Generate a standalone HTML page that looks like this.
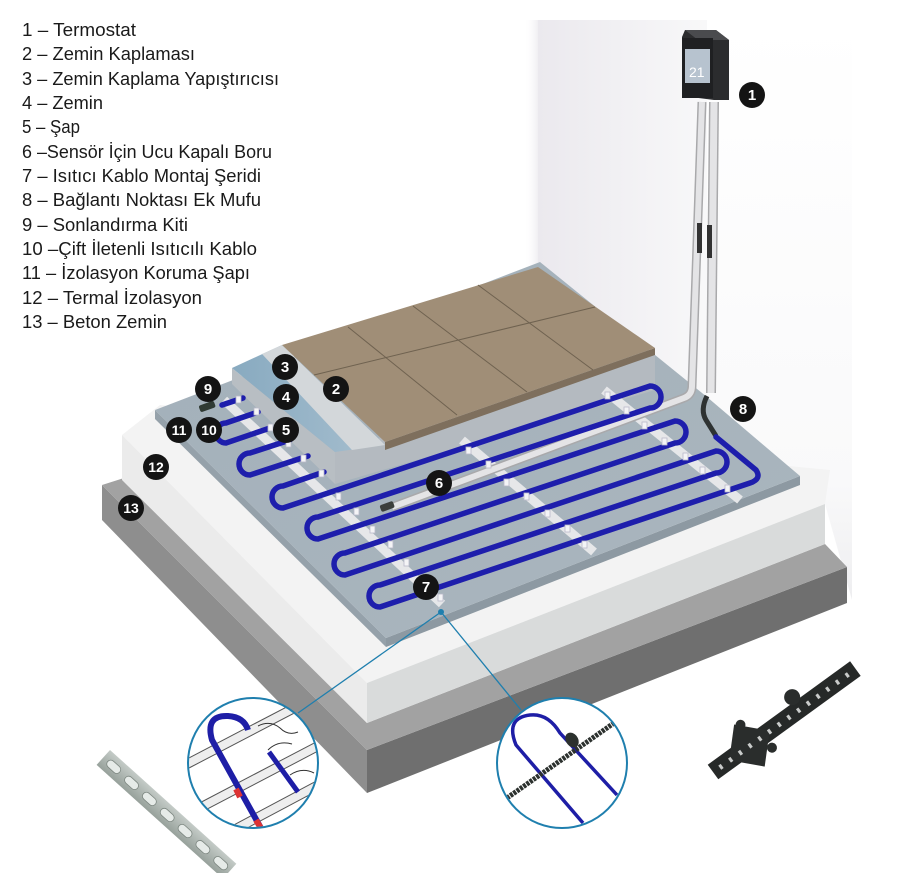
<!DOCTYPE html>
<html><head><meta charset="utf-8">
<style>
html,body{margin:0;padding:0;background:#fff;}
svg{display:block;}
text{font-family:"Liberation Sans",sans-serif;}
</style></head>
<body>
<svg width="922" height="873" viewBox="0 0 922 873" xmlns="http://www.w3.org/2000/svg">
<defs>
  <linearGradient id="sideWall" x1="0" y1="0" x2="1" y2="0">
    <stop offset="0" stop-color="#ffffff" stop-opacity="0"/>
    <stop offset="1" stop-color="#ebe9ee"/>
  </linearGradient>
  <linearGradient id="backWall" x1="0" y1="0" x2="1" y2="0">
    <stop offset="0" stop-color="#ebe9ee"/>
    <stop offset="1" stop-color="#f8f8f9"/>
  </linearGradient>
  <linearGradient id="rightWall" x1="0" y1="0" x2="0" y2="1">
    <stop offset="0" stop-color="#ffffff"/>
    <stop offset="0.8" stop-color="#f9f9fa"/>
    <stop offset="1" stop-color="#eeeef0"/>
  </linearGradient>
  <linearGradient id="screedTop" x1="0" y1="0" x2="1" y2="1">
    <stop offset="0" stop-color="#a3b0ba"/>
    <stop offset="1" stop-color="#aab6be"/>
  </linearGradient>
  <linearGradient id="blueTop" x1="0" y1="0" x2="1" y2="0">
    <stop offset="0" stop-color="#88aac0"/>
    <stop offset="1" stop-color="#a7bfcf"/>
  </linearGradient>
  <linearGradient id="metal" x1="0" y1="0" x2="0" y2="1">
    <stop offset="0" stop-color="#c4cbc7"/>
    <stop offset="1" stop-color="#97a19b"/>
  </linearGradient>
  <clipPath id="c1"><circle cx="253" cy="763" r="64"/></clipPath>
  <clipPath id="c2"><circle cx="562" cy="763" r="64"/></clipPath>
</defs>

<!-- walls -->
<rect x="524" y="20" width="16" height="330" fill="url(#sideWall)"/>
<polygon points="538,20 707,20 707,397 538,262" fill="url(#backWall)"/>
<polygon points="707,20 852,20 852,600 825,504 800,476 707,397" fill="url(#rightWall)"/>

<!-- concrete -->
<polygon points="102,485 367,750 367,793 102,520" fill="#8e8e8e"/>
<polygon points="367,750 847,567 847,603 367,793" fill="#6f6f6f"/>
<polygon points="102,485 124,478 367,723 825,544 847,567 367,750" fill="#a2a2a2"/>

<!-- insulation -->
<polygon points="122,435 160,405 830,470 825,504 367,683" fill="#f3f3f3"/>
<polygon points="122,435 367,683 367,723 122,480" fill="#ebebeb"/>
<polygon points="367,683 825,504 825,544 367,723" fill="#d9dbdb"/>

<!-- screed -->
<polygon points="155,410 386,638 386,647 155,419" fill="#95a1aa"/>
<polygon points="386,638 800,476 800,485 386,647" fill="#8d99a2"/>
<polygon points="155,410 540,262 707,397 800,476 386,638" fill="url(#screedTop)"/>

<!-- stacked layers -->
<polygon points="232,368 335,452 335,484 232,384" fill="#b8bec3"/>
<polygon points="335,452 655,352 655,390 335,484" fill="#b4bac0"/>
<polygon points="232,368 282,345 385,445 335,452" fill="url(#blueTop)"/>
<polygon points="262,354 282,345 385,445 352,450" fill="#d3d7da"/>
<!-- tile -->
<polygon points="385,442 655,348 655,355 385,450" fill="#7e6f5d"/>
<polygon points="282,345 538,267 655,348 385,442" fill="#a08e77"/>
<g stroke="#6f6250" stroke-width="1" fill="none">
  <line x1="348" y1="327" x2="457" y2="415"/>
  <line x1="413" y1="306" x2="527" y2="392"/>
  <line x1="478" y1="285" x2="593" y2="370"/>
  <line x1="314" y1="375" x2="595" y2="307"/>
</g>

<!-- mounting strips -->
<g stroke="#e6e7e9" stroke-width="9" stroke-linecap="butt">
  <line x1="224" y1="400" x2="442" y2="604"/>
  <line x1="462" y1="440" x2="594" y2="552"/>
  <line x1="604" y1="390" x2="740" y2="500"/>
</g>

<!-- sensor pipe / conduits -->
<path d="M392,507 L684,398 Q692,395 692,386 L702,102" fill="none" stroke="#a9a9ab" stroke-width="9"/>
<path d="M392,507 L684,398 Q692,395 692,386 L702,102" fill="none" stroke="#e4e4e6" stroke-width="6"/>
<path d="M711,393 L714,102" fill="none" stroke="#a9a9ab" stroke-width="10"/>
<path d="M711,393 L714,102" fill="none" stroke="#e4e4e6" stroke-width="7"/>
<rect x="380" y="503" width="14" height="7" rx="2" fill="#3c3f3c" transform="rotate(-20 387 506)"/>
<rect x="697" y="223" width="5" height="30" fill="#333"/>
<rect x="707" y="225" width="5" height="33" fill="#333"/>

<!-- cold lead -->
<path d="M707,396 Q700,410 706,420 L716,436" fill="none" stroke="#2e3232" stroke-width="5"/>

<!-- heating cable -->
<g fill="none" stroke="#1e1eac" stroke-width="5.5" stroke-linecap="round">
  <path d="M222,405 L243,398"/>
  <path d="M258,412 L226,423 A10,10 0 0 0 226,443 L270,428"/>
  <path d="M290,440 L250,453 A11,11 0 0 0 250,475 L308,456"/>
  <path d="M324,472 L283,486 A11,11 0 0 0 283,508 L650,386 A11,11 0 0 1 650,408 L318,517 A11,11 0 0 0 318,539 L675,421 A11,11 0 0 1 675,443 L345,553 A11,11 0 0 0 345,575 L716,451 A11,11 0 0 1 716,473 L380,585 A11,11 0 0 0 380,607 L750,483 Q762,479 756,470 L716,437"/>
</g>
<rect x="199" y="403" width="16" height="7" rx="2" fill="#2f3a33" transform="rotate(-20 207 406)"/>
<!-- clips -->
<g fill="#f4f4f6" stroke="#b9b9c9" stroke-width="0.8">
  <rect x="236" y="396" width="5" height="7"/><rect x="254" y="408" width="5" height="7"/>
  <rect x="268" y="424" width="5" height="7"/><rect x="286" y="440" width="5" height="7"/>
  <rect x="301" y="455" width="5" height="7"/><rect x="319" y="470" width="5" height="7"/>
  <rect x="336" y="493" width="5" height="7"/><rect x="354" y="508" width="5" height="7"/>
  <rect x="370" y="526" width="5" height="7"/><rect x="388" y="541" width="5" height="7"/>
  <rect x="404" y="559" width="5" height="7"/><rect x="420" y="575" width="5" height="7"/>
  <rect x="438" y="594" width="5" height="7"/>
  <rect x="466" y="447" width="5" height="7"/><rect x="486" y="461" width="5" height="7"/>
  <rect x="504" y="479" width="5" height="7"/><rect x="524" y="493" width="5" height="7"/>
  <rect x="545" y="510" width="5" height="7"/><rect x="565" y="525" width="5" height="7"/>
  <rect x="582" y="541" width="5" height="7"/>
  <rect x="605" y="392" width="5" height="7"/><rect x="624" y="407" width="5" height="7"/>
  <rect x="642" y="422" width="5" height="7"/><rect x="662" y="438" width="5" height="7"/>
  <rect x="683" y="453" width="5" height="7"/><rect x="700" y="467" width="5" height="7"/>
  <rect x="725" y="485" width="5" height="7"/>
</g>

<!-- thermostat -->
<polygon points="685,30 716,30 729,40 729,100 714,100 683,96 682,37" fill="#2b2c2e"/>
<polygon points="685,30 716,30 729,40 698,40" fill="#4a4b4e"/>
<rect x="682" y="38" width="31" height="60" fill="#1f2022"/>
<rect x="685" y="49" width="25" height="34" fill="#b7c3cf"/>
<text x="689" y="77" font-size="14" fill="#fff">21</text>

<!-- legend -->
<g font-size="18" fill="#1a1a1a">
  <text x="22" y="36" textLength="114" lengthAdjust="spacingAndGlyphs">1 – Termostat</text>
  <text x="22" y="60" textLength="173" lengthAdjust="spacingAndGlyphs">2 – Zemin Kaplaması</text>
  <text x="22" y="85" textLength="257" lengthAdjust="spacingAndGlyphs">3 – Zemin Kaplama Yapıştırıcısı</text>
  <text x="22" y="109" textLength="81" lengthAdjust="spacingAndGlyphs">4 – Zemin</text>
  <text x="22" y="133" textLength="58" lengthAdjust="spacingAndGlyphs">5 – Şap</text>
  <text x="22" y="158" textLength="250" lengthAdjust="spacingAndGlyphs">6 –Sensör İçin Ucu Kapalı Boru</text>
  <text x="22" y="182" textLength="239" lengthAdjust="spacingAndGlyphs">7 – Isıtıcı Kablo Montaj Şeridi</text>
  <text x="22" y="206" textLength="239" lengthAdjust="spacingAndGlyphs">8 – Bağlantı Noktası Ek Mufu</text>
  <text x="22" y="231" textLength="166" lengthAdjust="spacingAndGlyphs">9 – Sonlandırma Kiti</text>
  <text x="22" y="255" textLength="235" lengthAdjust="spacingAndGlyphs">10 –Çift İletenli Isıtıcılı Kablo</text>
  <text x="22" y="279" textLength="228" lengthAdjust="spacingAndGlyphs">11 – İzolasyon Koruma Şapı</text>
  <text x="22" y="304" textLength="180" lengthAdjust="spacingAndGlyphs">12 – Termal İzolasyon</text>
  <text x="22" y="328" textLength="145" lengthAdjust="spacingAndGlyphs">13 – Beton Zemin</text>
</g>

<!-- callout connectors -->
<g stroke="#1f7fae" stroke-width="1.3">
  <line x1="441" y1="612" x2="298" y2="713"/>
  <line x1="441" y1="612" x2="521" y2="710"/>
</g>
<circle cx="441" cy="612" r="3" fill="#1f7fae"/>

<!-- left inset -->
<circle cx="253" cy="763" r="65" fill="#fff"/>
<g clip-path="url(#c1)">
  <g stroke="#555" stroke-width="1" fill="#eee">
    <polygon points="185,760 300,700 304,708 189,768"/>
    <polygon points="190,808 318,741 322,749 194,816"/>
    <polygon points="215,835 322,778 326,786 219,843"/>
  </g>
  <path d="M262,830 L212,740 Q205,715 228,716 Q244,717 248,730" fill="none" stroke="#1e1ea6" stroke-width="6"/>
  <path d="M269,752 L298,792" fill="none" stroke="#1e1ea6" stroke-width="5"/>
  <line x1="236" y1="789" x2="240" y2="797" stroke="#d33" stroke-width="6"/>
  <line x1="256" y1="820" x2="262" y2="830" stroke="#d33" stroke-width="6"/>
  <path d="M258,726 q12,-6 22,2 q8,8 18,4 M268,750 q10,-10 24,-6 M290,775 q12,-8 24,-2" fill="none" stroke="#333" stroke-width="1"/>
</g>
<circle cx="253" cy="763" r="65" fill="none" stroke="#1f7fae" stroke-width="2"/>

<!-- right inset -->
<circle cx="562" cy="763" r="65" fill="#fff"/>
<g clip-path="url(#c2)">
  <path d="M583,823 L516,745 Q505,718 530,715 Q548,713 560,733 L617,795" fill="none" stroke="#1e1ea6" stroke-width="3.5"/>
  <line x1="507" y1="798" x2="614" y2="723" stroke="#2c312e" stroke-width="5" stroke-dasharray="3,1"/>
  <ellipse cx="572" cy="740" rx="6" ry="8" fill="#2c312e" transform="rotate(-35 572 740)"/>
</g>
<circle cx="562" cy="763" r="65" fill="none" stroke="#1f7fae" stroke-width="2"/>

<!-- metal strip bottom-left -->
<g transform="translate(110,750) rotate(42)">
  <rect x="0" y="0" width="170" height="20" fill="url(#metal)"/>
  <g fill="#e6ebe8" stroke="#7d8781" stroke-width="0.8">
    <rect x="6" y="6" width="16" height="8" rx="4"/><rect x="30" y="6" width="16" height="8" rx="4"/>
    <rect x="54" y="6" width="16" height="8" rx="4"/><rect x="78" y="6" width="16" height="8" rx="4"/>
    <rect x="102" y="6" width="16" height="8" rx="4"/><rect x="126" y="6" width="16" height="8" rx="4"/>
    <rect x="150" y="6" width="16" height="8" rx="4"/>
  </g>
</g>

<!-- black plastic strip bottom-right -->
<g transform="translate(713,772) rotate(-36)">
  <rect x="0" y="-9" width="176" height="18" fill="#262928"/>
  <polygon points="20,0 45,-26 70,0 45,26" fill="#2a2d2c"/>
  <circle cx="50" cy="-22" r="5" fill="#2a2d2c"/><circle cx="62" cy="15" r="5" fill="#2a2d2c"/>
  <circle cx="108" cy="-14" r="8" fill="#2a2d2c"/>
  <g fill="#c9cbca">
    <rect x="8" y="-2" width="3" height="5"/><rect x="20" y="-2" width="3" height="5"/>
    <rect x="32" y="-2" width="3" height="5"/><rect x="44" y="-2" width="3" height="5"/>
    <rect x="56" y="-2" width="3" height="5"/><rect x="68" y="-2" width="3" height="5"/>
    <rect x="80" y="-2" width="3" height="5"/><rect x="92" y="-2" width="3" height="5"/>
    <rect x="104" y="-2" width="3" height="5"/><rect x="116" y="-2" width="3" height="5"/>
    <rect x="128" y="-2" width="3" height="5"/><rect x="140" y="-2" width="3" height="5"/>
    <rect x="152" y="-2" width="3" height="5"/><rect x="164" y="-2" width="3" height="5"/>
  </g>
</g>

<!-- number badges -->
<g font-size="15" font-weight="bold" fill="#fff" text-anchor="middle">
  <circle cx="752" cy="95" r="13" fill="#141414"/><text x="752" y="100">1</text>
  <circle cx="336" cy="389" r="13" fill="#141414"/><text x="336" y="394">2</text>
  <circle cx="285" cy="367" r="13" fill="#141414"/><text x="285" y="372">3</text>
  <circle cx="286" cy="397" r="13" fill="#141414"/><text x="286" y="402">4</text>
  <circle cx="286" cy="430" r="13" fill="#141414"/><text x="286" y="435">5</text>
  <circle cx="439" cy="483" r="13" fill="#141414"/><text x="439" y="488">6</text>
  <circle cx="426" cy="587" r="13" fill="#141414"/><text x="426" y="592">7</text>
  <circle cx="743" cy="409" r="13" fill="#141414"/><text x="743" y="414">8</text>
  <circle cx="208" cy="389" r="13" fill="#141414"/><text x="208" y="394">9</text>
  <circle cx="209" cy="430" r="13" fill="#141414"/><text x="209" y="435" font-size="14">10</text>
  <circle cx="179" cy="430" r="13" fill="#141414"/><text x="179" y="435" font-size="14">11</text>
  <circle cx="156" cy="467" r="13" fill="#141414"/><text x="156" y="472" font-size="14">12</text>
  <circle cx="131" cy="508" r="13" fill="#141414"/><text x="131" y="513" font-size="14">13</text>
</g>
</svg>
</body></html>
